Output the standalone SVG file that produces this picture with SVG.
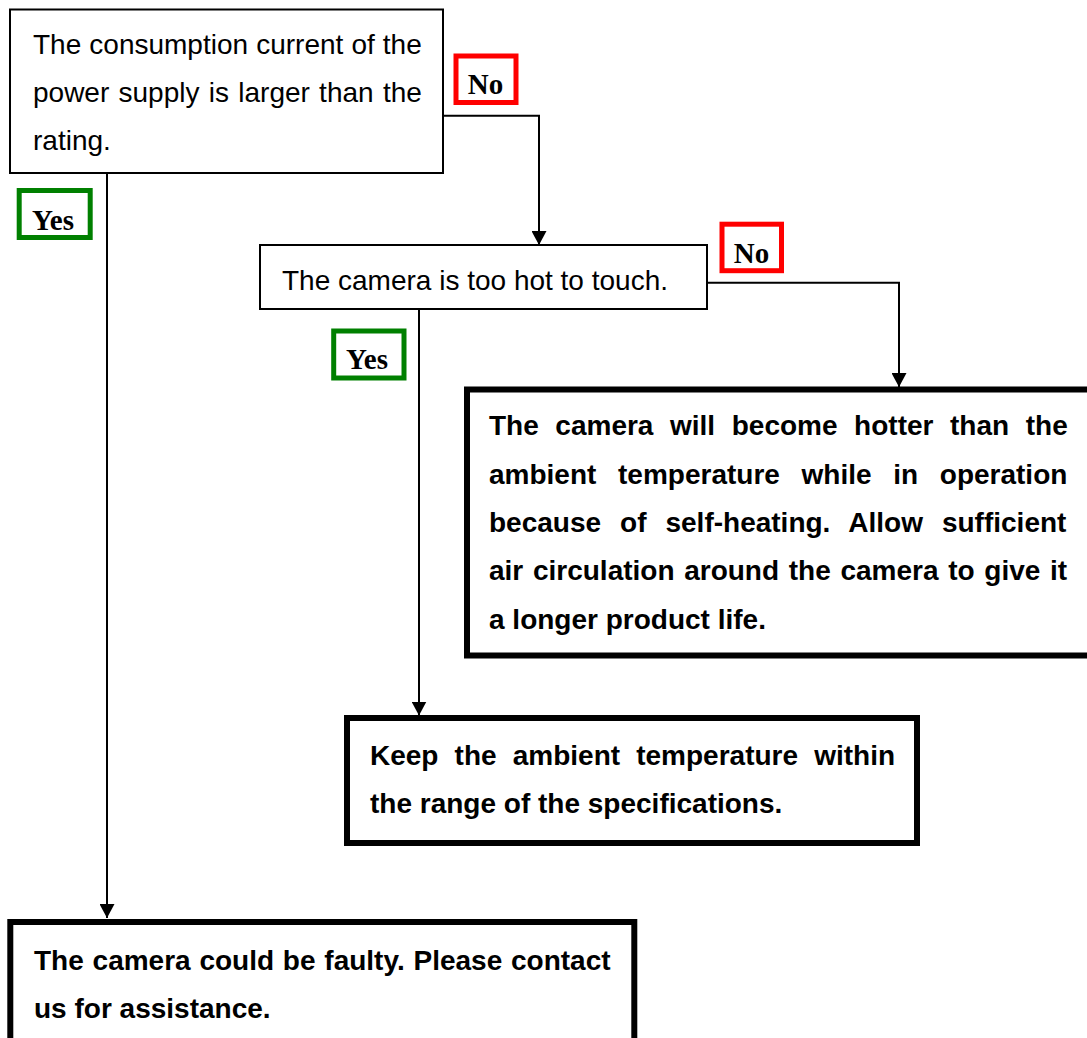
<svg xmlns="http://www.w3.org/2000/svg" width="1087" height="1038" viewBox="0 0 1087 1038">
  <style>
    .bg { fill: #ffffff; }
    .q { fill: #ffffff; stroke: #000000; stroke-width: 2; }
    .a { fill: #ffffff; stroke: #000000; stroke-width: 6; }
    .t { font-family: "Liberation Sans", Arial, sans-serif; font-size: 28px; fill: #000000; font-variant-ligatures: none; }
    .b { font-family: "Liberation Sans", Arial, sans-serif; font-size: 28px; font-weight: bold; fill: #000000; font-variant-ligatures: none; }
    .lbl { font-family: "Liberation Serif", "Times New Roman", serif; font-size: 29px; font-weight: bold; fill: #000000; text-anchor: middle; }
    .no { fill: #ffffff; stroke: #ff0000; stroke-width: 5; }
    .yes { fill: #ffffff; stroke: #008000; stroke-width: 5; }
    .edge { fill: none; stroke: #000000; stroke-width: 2; }
  </style>
  <defs>
    <marker id="arrow" viewBox="0 0 14 15" refX="14" refY="7.5" markerWidth="14" markerHeight="15" markerUnits="userSpaceOnUse" orient="auto">
      <path d="M0,0 L14,7.5 L0,15 Z" fill="#000000"/>
    </marker>
  </defs>

  <rect class="bg" x="0" y="0" width="1087" height="1038"/>

  <!-- connectors -->
  <g id="connectors">
    <path class="edge" d="M107,173 L107,918" marker-end="url(#arrow)"/>
    <path class="edge" d="M443,115.7 L539,115.7 L539,245" marker-end="url(#arrow)"/>
    <path class="edge" d="M707,282.7 L899,282.7 L899,387" marker-end="url(#arrow)"/>
    <path class="edge" d="M419,309 L419,715.5" marker-end="url(#arrow)"/>
  </g>

  <!-- decision: supply current -->
  <g id="q-current">
    <rect class="q" x="10" y="9.5" width="433" height="163.5"/>
    <text class="t" x="33" y="54" word-spacing="0.3">The consumption current of the</text>
    <text class="t" x="33" y="102" word-spacing="1.5">power supply is larger than the</text>
    <text class="t" x="33" y="150">rating.</text>
  </g>

  <g id="lbl-no-1">
    <rect class="no" x="456" y="56" width="60" height="46.5"/>
    <text class="lbl" x="485.5" y="94">No</text>
  </g>

  <g id="lbl-yes-1">
    <rect class="yes" x="19.2" y="190.5" width="71" height="47"/>
    <text class="lbl" x="53" y="230">Yes</text>
  </g>

  <!-- decision: housing temperature -->
  <g id="q-hot">
    <rect class="q" x="260" y="245" width="447" height="64"/>
    <text class="t" x="282" y="290">The camera is too hot to touch.</text>
  </g>

  <g id="lbl-no-2">
    <rect class="no" x="722" y="224.2" width="59.5" height="46.5"/>
    <text class="lbl" x="751.5" y="262.7">No</text>
  </g>

  <g id="lbl-yes-2">
    <rect class="yes" x="333.7" y="331" width="70.3" height="47"/>
    <text class="lbl" x="367" y="369">Yes</text>
  </g>

  <!-- outcome: self-heating -->
  <g id="a-selfheat">
    <rect class="a" x="467" y="389.5" width="630" height="266"/>
    <text class="b" x="489" y="435" word-spacing="8.8">The camera will become hotter than the</text>
    <text class="b" x="489" y="483.5" word-spacing="13.9">ambient temperature while in operation</text>
    <text class="b" x="489" y="532" word-spacing="11.2">because of self-heating. Allow sufficient</text>
    <text class="b" x="489" y="580" word-spacing="1.9">air circulation around the camera to give it</text>
    <text class="b" x="489" y="628.5">a longer product life.</text>
  </g>

  <!-- outcome: ambient temperature -->
  <g id="a-ambient">
    <rect class="a" x="347" y="718" width="570" height="125"/>
    <text class="b" x="370" y="765" word-spacing="8.35">Keep the ambient temperature within</text>
    <text class="b" x="370" y="813">the range of the specifications.</text>
  </g>

  <!-- outcome: faulty unit -->
  <g id="a-faulty">
    <rect class="a" x="10.3" y="922" width="624" height="140"/>
    <text class="b" x="34" y="970" word-spacing="1">The camera could be faulty. Please contact</text>
    <text class="b" x="34" y="1018">us for assistance.</text>
  </g>
</svg>
